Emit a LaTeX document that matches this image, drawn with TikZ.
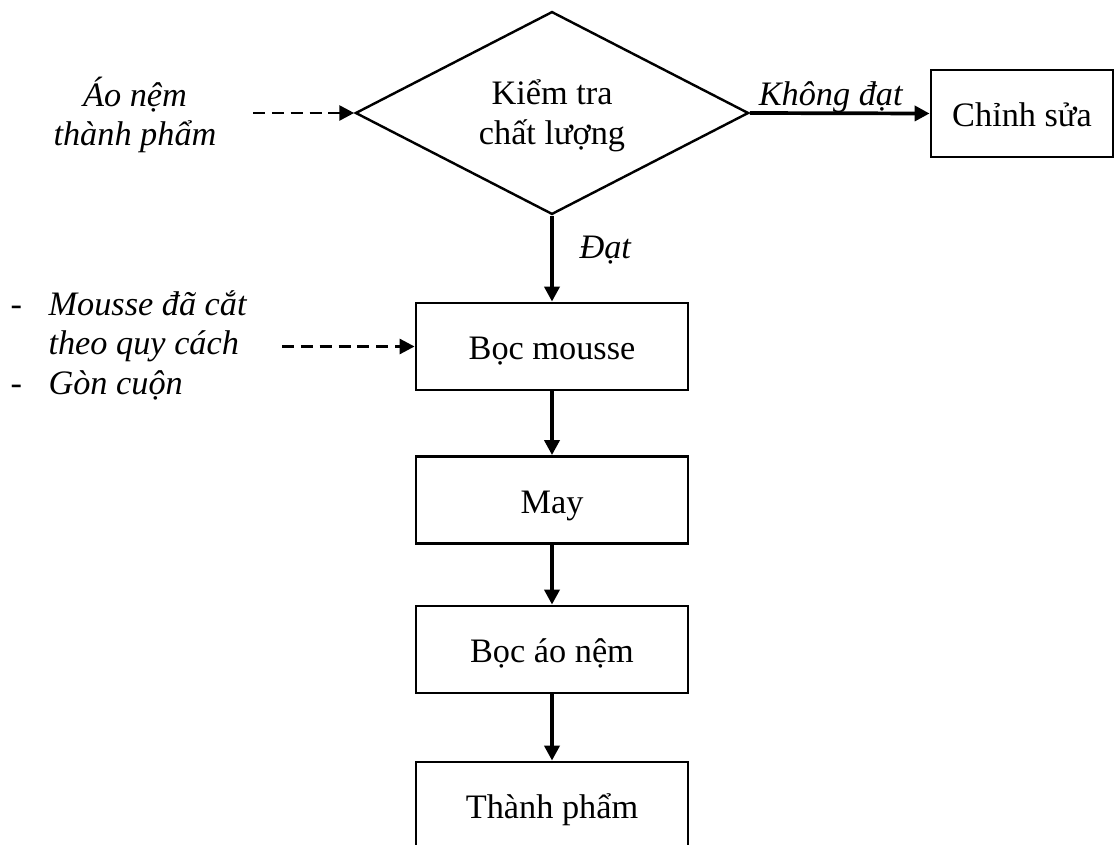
\documentclass[tikz,border=0pt]{standalone}
\usepackage{fontspec}
\setmainfont{Liberation Serif}
\usetikzlibrary{shapes.geometric,arrows.meta}
\begin{document}
\begin{tikzpicture}[x=0.35pt,y=-0.35pt,
  every node/.style={font=\fontsize{12}{13.8}\selectfont},
  box/.style={draw,line width=1pt,minimum width=95.2pt,minimum height=30.45pt,inner sep=0pt,
    text height=9.2pt,text depth=0pt},
  decision/.style={draw,diamond,aspect=2,line width=0.85pt,minimum width=137.6pt,minimum height=71pt,
    inner sep=0pt,align=center,font=\fontsize{12}{14}\selectfont},
  tip/.style={-{Triangle[length=5.2pt,width=5.2pt]}},
  flow/.style={tip,line width=1.3pt},
  feed/.style={tip,line width=1pt,dash pattern=on 4.2pt off 2.4pt},
  lbl/.style={font=\fontsize{12}{13.8}\selectfont\itshape}]
\useasboundingbox (0,0) rectangle (1115,845);
\clip (0,0) rectangle (1115,845);

% process chain
\node[decision] (check) at (552,113) {\rule{0pt}{10.5pt}Kiểm tra\\chất lượng};
\node[box,minimum width=63.7pt] (fix) at (1022,113.5) {Chỉnh sửa};
\node[box] (wrap) at (552,346.5) {Bọc mousse};
\node[box] (sew) at (552,500) {May};
\node[box] (cover) at (552,649.5) {Bọc áo nệm};
\node[box] (done) at (552,805.5) {Thành phẩm};

% inputs
\node[lbl,align=center] (in1) at (135,115) {Áo nệm\\thành phẩm};
\node[anchor=west,inner sep=0pt] (in2) at (10,347) {%
  \begin{tabular}{@{}p{13.3pt}@{}l@{}}
  - & \itshape Mousse đã cắt\\
    & \itshape theo quy cách\\
  - & \itshape Gòn cuộn
  \end{tabular}};
\coordinate (f1) at (253,113);
\coordinate (f2) at (282,346.5);

% connectors
\draw[feed] (f1) -- (check);
\draw[feed] (f2) -- (wrap);
\draw[flow] (check.east) -- node[lbl,above=-0.6pt,pos=0.45,inner sep=0pt] {Không đạt} (fix.west);
\draw[flow] (check.south) -- node[lbl,right,pos=0.4,inner sep=0pt,xshift=9pt] {Đạt} (wrap.north);
\draw[flow] (wrap) -- (sew);
\draw[flow] (sew) -- (cover);
\draw[flow] (cover) -- (done);
\end{tikzpicture}
\end{document}
